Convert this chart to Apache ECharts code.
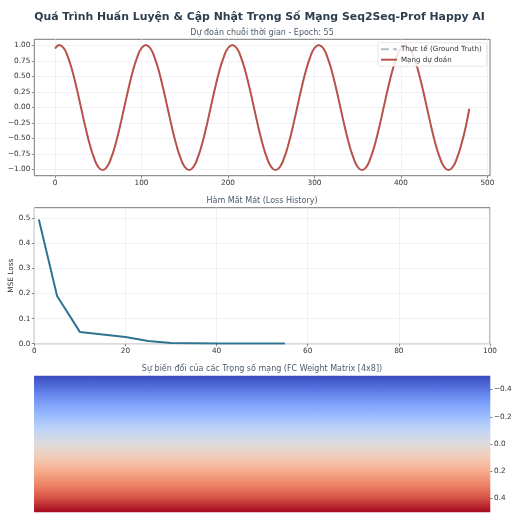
<!DOCTYPE html>
<html>
<head>
<meta charset="utf-8">
<style>html,body{margin:0;padding:0;background:#fff}#c{width:520px;height:520px}</style>
<script src="https://cdn.jsdelivr.net/npm/echarts@6/dist/echarts.min.js"></script>
</head>
<body>
<div id="c"></div>
<script>
const mainTitle = 'Quá Trình Huấn Luyện & Cập Nhật Trọng Số Mạng Seq2Seq-Prof Happy AI';
const title1 = 'Dự đoán chuỗi thời gian - Epoch: 55';
const title2 = 'Hàm Mất Mát (Loss History)';
const title3 = 'Sự biến đổi của các Trọng số mạng (FC Weight Matrix [4x8])';
const seriesTruthName = 'Thực tế (Ground Truth)';
const seriesPredName = 'Mạng dự đoán';
const lossAxisName = 'MSE Loss';

const waveX = [0,5,10,15,20,25,30,35,40,45,50,55,60,65,70,75,80,85,90,95,100,105,110,115,120,125,130,135,140,145,150,155,160,165,170,175,180,185,190,195,200,205,210,215,220,225,230,235,240,245,250,255,260,265,270,275,280,285,290,295,300,305,310,315,320,325,330,335,340,345,350,355,360,365,370,375,380,385,390,395,400,405,410,415,420,425,430,435,440,445,450,455,460,465,470,475,479];
const truthY = [0.95,1,0.95,0.81,0.59,0.31,0,-0.31,-0.59,-0.81,-0.95,-1,-0.95,-0.81,-0.59,-0.31,0,0.31,0.59,0.81,0.95,1,0.95,0.81,0.59,0.31,0,-0.31,-0.59,-0.81,-0.95,-1,-0.95,-0.81,-0.59,-0.31,0,0.31,0.59,0.81,0.95,1,0.95,0.81,0.59,0.31,0,-0.31,-0.59,-0.81,-0.95,-1,-0.95,-0.81,-0.59,-0.31,0,0.31,0.59,0.81,0.95,1,0.95,0.81,0.59,0.31,0,-0.31,-0.59,-0.81,-0.95,-1,-0.95,-0.81,-0.59,-0.31,0,0.31,0.59,0.81,0.95,1,0.95,0.81,0.59,0.31,0,-0.31,-0.59,-0.81,-0.95,-1,-0.95,-0.81,-0.59,-0.31,-0.02];
const predY = [0.95,1.01,0.96,0.81,0.59,0.31,0,-0.31,-0.59,-0.81,-0.96,-1.01,-0.96,-0.81,-0.59,-0.31,0,0.31,0.59,0.81,0.96,1.01,0.96,0.81,0.59,0.31,0,-0.31,-0.59,-0.81,-0.96,-1.01,-0.96,-0.81,-0.59,-0.31,0,0.31,0.59,0.81,0.96,1.01,0.96,0.81,0.59,0.31,0,-0.31,-0.59,-0.81,-0.96,-1.01,-0.96,-0.81,-0.59,-0.31,0,0.31,0.59,0.81,0.96,1.01,0.96,0.81,0.59,0.31,0,-0.31,-0.59,-0.81,-0.96,-1.01,-0.96,-0.81,-0.59,-0.31,0,0.31,0.59,0.81,0.96,1.01,0.96,0.81,0.59,0.31,0,-0.31,-0.59,-0.81,-0.96,-1.01,-0.96,-0.81,-0.59,-0.31,-0.02];
const waveXTicks = [0,100,200,300,400,500];
const waveYTicks = [-1,-0.75,-0.5,-0.25,0,0.25,0.5,0.75,1];

const lossX = [1,5,10,15,20,25,30,35,40,45,50,55];
const lossY = [0.495,0.19,0.047,0.037,0.027,0.011,0.003,0.002,0.001,0.001,0.001,0.001];
const lossXTicks = [0,20,40,60,80,100];
const lossYTicks = [0,0.1,0.2,0.3,0.4,0.5];

const heatCols = ['0','1','2','3','4','5','6','7'];
const heatRows = [-0.493,-0.478,-0.463,-0.449,-0.434,-0.419,-0.404,-0.390,-0.375,-0.360,-0.346,-0.331,-0.316,-0.301,-0.287,-0.272,-0.257,-0.243,-0.228,-0.213,-0.199,-0.184,-0.169,-0.154,-0.140,-0.125,-0.110,-0.096,-0.081,-0.066,-0.051,-0.037,-0.022,-0.007,0.007,0.022,0.037,0.051,0.066,0.081,0.096,0.110,0.125,0.140,0.154,0.169,0.184,0.199,0.213,0.228,0.243,0.257,0.272,0.287,0.301,0.316,0.331,0.346,0.360,0.375,0.390,0.404,0.419,0.434,0.449,0.463,0.478,0.493];
const heatTicks = [-0.4,-0.2,0,0.2,0.4];
const coolwarm = ['#3b4cc0','#5977e3','#7b9ff9','#9ebeff','#c0d4f5','#dddcdc','#f2cbb7','#f7ac8e','#ee8468','#d65244','#a50a22'];

const FONT = 'DejaVu Sans';
const minusFmt = d => v => v.toFixed(d).replace('-', '\u2212');
const tickStyle = {fontFamily: FONT, fontSize: 7.3, color: '#333', margin: 4};
const split = {show: true, lineStyle: {color: '#eceef0', width: 0.8}};
const axisCommon = (ticks, fmt) => ({
  axisLine: {show: false, onZero: false},
  axisTick: {show: true, length: 2.5, customValues: ticks, lineStyle: {color: '#555', width: 0.7}},
  axisLabel: Object.assign({customValues: ticks, formatter: fmt, showMinLabel: true, showMaxLabel: true}, tickStyle),
  splitLine: split
});
const subTitle = (text, top) => ({text, left: 257, top, textAlign: 'center',
  textStyle: {fontFamily: FONT, fontSize: 8, fontWeight: 'normal', color: '#4d5c6b'}});

const heatData = [];
heatRows.forEach((v, r) => heatCols.forEach((c, i) => heatData.push([i, r, v])));

const chart = echarts.init(document.getElementById('c'), null, {renderer: 'canvas'});
chart.setOption({
  animation: false,
  backgroundColor: '#fff',
  title: [
    {text: mainTitle, left: 254.5, top: 7, textAlign: 'center',
     textStyle: {fontFamily: FONT, fontSize: 10.9, fontWeight: 'bold', color: '#2c3e50'}},
    subTitle(title1, 23.5),
    subTitle(title2, 191.5),
    subTitle(title3, 359.8)
  ],
  grid: [
    {left: 34.3, top: 39.3, width: 455.7, height: 136.4, show: true, borderColor: '#777', borderWidth: 1, outerBoundsMode: 'none'},
    {left: 34.3, top: 207.7, width: 455.7, height: 136, show: true, borderColor: '#777', borderWidth: 1, outerBoundsMode: 'none'},
    {left: 34.3, top: 376, width: 455.7, height: 136, show: false, outerBoundsMode: 'none'}
  ],
  xAxis: [
    Object.assign({type: 'value', gridIndex: 0, min: -24, max: 503}, axisCommon(waveXTicks, v => String(v))),
    Object.assign({type: 'value', gridIndex: 1, min: 0, max: 100}, axisCommon(lossXTicks, v => String(v))),
    {type: 'category', gridIndex: 2, data: heatCols, show: false}
  ],
  yAxis: [
    Object.assign({type: 'value', gridIndex: 0, min: -1.1, max: 1.1}, axisCommon(waveYTicks, minusFmt(2))),
    Object.assign({type: 'value', gridIndex: 1, min: 0, max: 0.542, name: lossAxisName, nameLocation: 'middle', nameGap: 20, nameMoveOverlap: false,
      nameTextStyle: {fontFamily: FONT, fontSize: 7.3, color: '#333'}}, axisCommon(lossYTicks, minusFmt(1))),
    {type: 'category', gridIndex: 2, data: heatRows.map(String), inverse: true, show: false},
    Object.assign({type: 'value', gridIndex: 2, min: -0.5, max: 0.5, inverse: true, position: 'right'},
      axisCommon(heatTicks, minusFmt(1)), {splitLine: {show: false}})
  ],
  legend: {
    orient: 'vertical', left: 378, top: 42.7, padding: [3, 5, 3, 2],
    itemWidth: 16, itemHeight: 8, itemGap: 3.5,
    itemStyle: {opacity: 0},
    backgroundColor: 'rgba(255,255,255,0.85)', borderColor: '#ddd', borderWidth: 0.7, borderRadius: 2,
    textStyle: {fontFamily: FONT, fontSize: 7.1, color: '#333', padding: [0, 0, 0, -1]},
    data: [seriesTruthName, seriesPredName]
  },
  visualMap: {show: false, type: 'continuous', min: -0.5, max: 0.5, seriesIndex: 3, dimension: 2, inRange: {color: coolwarm}},
  series: [
    {name: seriesTruthName, type: 'line', xAxisIndex: 0, yAxisIndex: 0, smooth: true, showSymbol: false, symbol: 'none',
     data: waveX.map((x, i) => [x, truthY[i]]),
     lineStyle: {color: '#b4bdc4', width: 1.2, type: 'dashed'}, itemStyle: {color: '#b4bdc4'}},
    {name: seriesPredName, type: 'line', xAxisIndex: 0, yAxisIndex: 0, smooth: true, showSymbol: false, symbol: 'none',
     data: waveX.map((x, i) => [x, predY[i]]),
     lineStyle: {color: '#b9524a', width: 2}, itemStyle: {color: '#b9524a'}},
    {type: 'line', xAxisIndex: 1, yAxisIndex: 1, showSymbol: false, symbol: 'none',
     data: lossX.map((x, i) => [x, lossY[i]]),
     lineStyle: {color: '#2e7590', width: 2}, itemStyle: {color: '#2e7590'}},
    {type: 'heatmap', xAxisIndex: 2, yAxisIndex: 2, data: heatData, itemStyle: {borderWidth: 0}, emphasis: {disabled: true}}
  ]
});
</script>
</body>
</html>
